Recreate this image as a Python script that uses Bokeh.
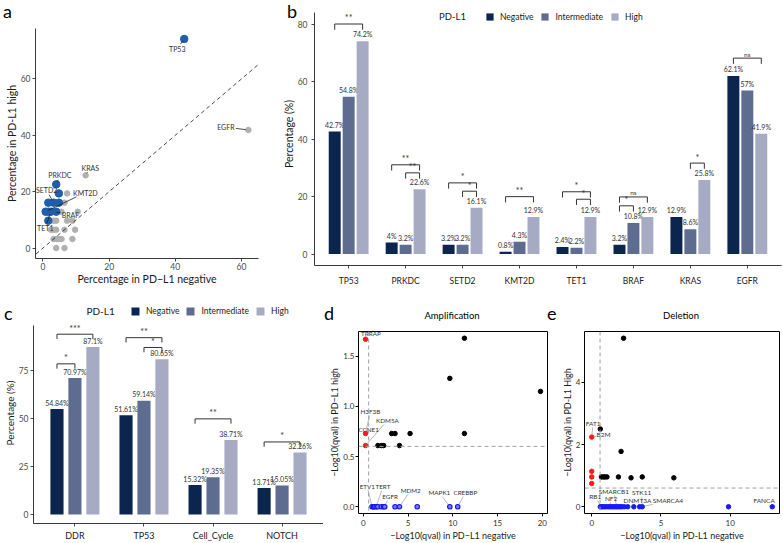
import math
from bokeh.plotting import figure
from bokeh.models import (ColumnDataSource, Range1d, FixedTicker, Label, Legend,
                          LegendItem, Span, Slope, NumeralTickFormatter, Div)
from bokeh.layouts import row, column
from bokeh.embed import file_html
from bokeh.resources import INLINE
from bokeh.core.properties import value

FONT = "Lato"
INK = "#1a1a1a"
GREY_TXT = "#4d4d4d"

# ======================= data =======================
pdl1_groups = ["Negative", "Intermediate", "High"]
pdl1_colors = ["#0b254f", "#5e6d8f", "#a6abc3"]

# ---- (a) mutation frequency (%): PD-L1 negative vs PD-L1 high ----
a_sig_neg = [42.7, 4.0, 4.8, 1.6, 3.2, 4.8, 0.8, 1.6, 2.4, 4.0, 1.6]
a_sig_high = [74.2, 22.6, 19.4, 16.1, 16.1, 16.1, 12.9, 12.9, 12.9, 12.9, 9.7]
a_ns_neg = [62.1, 12.9, 7.3, 6.5, 3.2, 5.6, 10.5, 3.2, 4.0, 7.3, 8.9,
            2.4, 3.2, 4.0, 6.5, 9.7, 3.2, 4.0, 4.8, 5.6, 8.9, 4.0, 6.5]
a_ns_high = [41.9, 25.8, 19.4, 16.1, 12.9, 12.9, 12.9, 9.7, 9.7, 9.7, 9.7,
             6.5, 6.5, 6.5, 6.5, 6.5, 3.2, 3.2, 3.2, 3.2, 3.2, 0.0, 0.0]
a_lab_gene = ["TP53", "EGFR", "KRAS", "PRKDC", "SETD2", "KMT2D", "BRAF", "TET1"]
a_lab_neg = [42.7, 62.1, 12.9, 4.0, 3.2, 0.8, 3.2, 2.4]
a_lab_high = [74.2, 41.9, 25.8, 22.6, 16.1, 12.9, 12.9, 12.9]
a_lab_tx = [40.6, 55.3, 14.3, 5.1, 1.1, 12.8, 8.3, 0.7]
a_lab_ty = [70.8, 42.9, 28.4, 25.8, 20.5, 19.7, 11.9, 7.2]
a_ticks = [0, 20, 40, 60]

# ---- (b) gene mutation frequency by PD-L1 group (%) ----
b_genes = ["TP53", "PRKDC", "SETD2", "KMT2D", "TET1", "BRAF", "KRAS", "EGFR"]
b_negative = [42.7, 4.0, 3.2, 0.8, 2.4, 3.2, 12.9, 62.1]
b_intermediate = [54.8, 3.2, 3.2, 4.3, 2.2, 10.8, 8.6, 57.0]
b_high = [74.2, 22.6, 16.1, 12.9, 12.9, 12.9, 25.8, 41.9]
b_ticks = [0, 20, 40, 60, 80]
b_cmp_gene = [0, 1, 1, 2, 2, 3, 4, 4, 5, 5, 6, 7]
b_cmp_from = [0, 0, 1, 0, 1, 0, 0, 1, 0, 0, 1, 0]
b_cmp_to = [2, 2, 2, 2, 2, 2, 2, 2, 2, 1, 2, 2]
b_cmp_y = [80.2, 31.1, 28.3, 24.8, 21.9, 20.0, 21.7, 19.1, 19.9, 16.8, 31.7, 68.3]
b_cmp_sig = ["**", "**", "**", "*", "*", "**", "*", "*", "ns", "*", "*", "ns"]

# ---- (c) pathway alteration frequency by PD-L1 group (%) ----
c_paths = ["DDR", "TP53", "Cell_Cycle", "NOTCH"]
c_negative = [54.84, 51.61, 15.32, 13.71]
c_intermediate = [70.97, 59.14, 19.35, 15.05]
c_high = [87.1, 80.65, 38.71, 32.26]
c_ticks = [0, 25, 50, 75]
c_cmp_path = [0, 0, 1, 1, 2, 3]
c_cmp_from = [0, 0, 0, 1, 0, 0]
c_cmp_to = [2, 1, 2, 2, 2, 2]
c_cmp_y = [93.7, 78.3, 91.9, 86.8, 49.7, 37.7]
c_cmp_sig = ["***", "*", "**", "*", "**", "*"]

# ---- (d) amplification, -log10(q) ----
q_cut = 0.25
d_black_x = [11.3, 9.67, 19.8, 3.17, 3.55, 5.23, 11.3, 1.63, 2.02, 2.28, 4.05]
d_black_y = [1.68, 1.28, 1.15, 0.73, 0.73, 0.73, 0.73, 0.61, 0.61, 0.61, 0.61]
d_red_x = [0.25, 0.25, 0.25]
d_red_y = [1.67, 0.73, 0.61]
d_blue_x = [0.98, 1.14, 1.25, 1.44, 1.63, 2.02, 2.28, 2.4, 3.55, 4.05, 6.03, 9.67, 10.55]
d_blue_y = [0.0] * 13
d_lab = ["TRRAP", "H3F3B", "KDM5A", "CCNE1", "ETV1", "TERT", "EGFR", "MDM2", "MAPK1", "CREBBP"]
d_lab_px = [0.25, 0.25, 0.25, 0.25, 0.98, 1.44, 2.28, 4.05, 9.67, 10.55]
d_lab_py = [1.67, 0.73, 0.61, 0.73, 0.0, 0.0, 0.0, 0.0, 0.0, 0.0]
d_lab_tx = [0.85, 0.8, 2.7, 0.6, 0.45, 2.2, 3.0, 5.3, 8.5, 11.4]
d_lab_ty = [1.73, 0.95, 0.86, 0.77, 0.2, 0.2, 0.1, 0.165, 0.14, 0.14]
d_xticks = [0, 5, 10, 15, 20]
d_yticks = [0, 0.5, 1.0, 1.5]

# ---- (e) deletion, -log10(q) ----
e_black_x = [2.3, 0.62, 2.12, 0.7, 0.84, 0.96, 1.1, 1.93, 2.84, 3.65, 5.93]
e_black_y = [5.42, 2.5, 1.78, 0.96, 0.96, 0.96, 0.96, 0.96, 0.93, 0.96, 0.93]
e_red_x = [0.0, 0.0, 0.0, 0.0]
e_red_y = [2.24, 1.14, 0.96, 0.75]
e_blue_x = [0.62, 0.7, 0.8, 0.9, 1.03, 1.18, 1.3, 1.42, 1.55, 1.67, 1.8, 1.92,
            2.05, 2.17, 2.35, 2.6, 3.04, 3.46, 3.65, 9.88, 13.04]
e_blue_y = [0.0] * 21
e_lab = ["FAT1", "B2M", "RB1", "SMARCB1", "NF2", "STK11", "DNMT3A", "SMARCA4", "FANCA"]
e_lab_px = [0.0, 0.0, 0.7, 1.8, 1.3, 3.65, 3.46, 3.65, 13.04]
e_lab_py = [2.24, 2.24, 0.0, 0.0, 0.0, 0.0, 0.0, 0.0, 0.0]
e_lab_tx = [0.1, 0.85, 0.25, 1.6, 1.4, 3.6, 3.3, 5.5, 12.45]
e_lab_ty = [2.68, 2.33, 0.34, 0.5, 0.26, 0.45, 0.19, 0.19, 0.19]
e_xticks = [0, 5, 10]
e_yticks = [0, 2, 4]


# ======================= helpers =======================
def expand(lo, hi, f):
    d = (hi - lo) * f
    return lo - d, hi + d


def new_fig(w, h, xr, yr, l, r, t, b):
    return figure(width=w, height=h, x_range=xr, y_range=yr, title=None,
                  toolbar_location=None, output_backend="svg", frame_align=False,
                  min_border_left=l, min_border_right=r, min_border_top=t,
                  min_border_bottom=b)


def gg_axes(p, tick_fs="8.5px", title_fs="10.5px"):
    p.xgrid.visible = False
    p.ygrid.visible = False
    p.outline_line_color = None
    for ax in (p.xaxis[0], p.yaxis[0]):
        ax.axis_line_color = "#222222"
        ax.axis_line_width = 0.9
        ax.major_tick_line_color = "#333333"
        ax.major_tick_line_width = 0.9
        ax.major_tick_in = 0
        ax.major_tick_out = 3
        ax.minor_tick_line_color = None
        ax.major_label_text_font = FONT
        ax.major_label_text_font_size = tick_fs
        ax.major_label_text_color = GREY_TXT
        ax.major_label_standoff = 2
        ax.axis_label_text_font = FONT
        ax.axis_label_text_font_style = "normal"
        ax.axis_label_text_font_size = title_fs
        ax.axis_label_text_color = INK
        ax.axis_label_standoff = 0


def r_axes(p):
    p.xgrid.visible = False
    p.ygrid.visible = False
    p.outline_line_color = "#000000"
    p.outline_line_width = 1
    for ax in (p.xaxis[0], p.yaxis[0]):
        ax.axis_line_color = None
        ax.major_tick_line_color = "#000000"
        ax.major_tick_in = 0
        ax.major_tick_out = 3
        ax.minor_tick_line_color = None
        ax.major_label_text_font = FONT
        ax.major_label_text_font_size = "8px"
        ax.major_label_text_color = "#333333"
        ax.major_label_standoff = 1
        ax.axis_label_text_font = FONT
        ax.axis_label_text_font_style = "normal"
        ax.axis_label_text_font_size = "9px"
        ax.axis_label_text_color = INK
        ax.axis_label_standoff = 0
    p.xaxis[0].major_label_standoff = 3
    p.xaxis[0].axis_label_standoff = 1


def leaders(tx, ty, px, py, names, fs, sx, sy, gap):
    x0, y0, x1, y1 = [], [], [], []
    for a, b, c, d, nm in zip(tx, ty, px, py, names):
        dx = (c - a) * sx
        dy = (d - b) * sy
        dist = math.hypot(dx, dy)
        if dist < 1e-9:
            continue
        hw = 0.3 * fs * len(nm) + 1.5
        hh = 0.55 * fs + 0.5
        t0 = min(hw / abs(dx) if dx else 1e9, hh / abs(dy) if dy else 1e9)
        t1 = 1 - gap / dist
        if t0 < t1:
            x0.append(a + (c - a) * t0)
            y0.append(b + (d - b) * t0)
            x1.append(a + (c - a) * t1)
            y1.append(b + (d - b) * t1)
    return ColumnDataSource(dict(x0=x0, y0=y0, x1=x1, y1=y1))


def draw_bars(p, n, series, step, width, lab_fs, lab_gap):
    rs = []
    for gi, (vals, col) in enumerate(zip(series, pdl1_colors)):
        xs = [i + (gi - 1) * step for i in range(n)]
        src = ColumnDataSource(dict(x=xs, top=vals,
                                    lab=[f"{v:g}%" for v in vals],
                                    ly=[v + lab_gap for v in vals]))
        r = p.vbar(x="x", top="top", bottom=0, width=width, source=src,
                   fill_color=col, line_color=None)
        p.text(x="x", y="ly", text="lab", source=src, text_font=value(FONT),
               text_font_size=lab_fs, text_color="#333333",
               text_align="center", text_baseline="bottom")
        rs.append(r)
    return rs


def draw_brackets(p, cats, gfrom, gto, ys, sigs, step, tip, star_fs, ns_fs):
    xs, yl = [], []
    st = dict(x=[], y=[], t=[])
    ns = dict(x=[], y=[], t=[])
    for c, a, b, y, s in zip(cats, gfrom, gto, ys, sigs):
        x1 = c + (a - 1) * step
        x2 = c + (b - 1) * step
        xs.append([x1, x1, x2, x2])
        yl.append([y - tip, y, y, y - tip])
        tgt = ns if s == "ns" else st
        tgt["x"].append((x1 + x2) / 2)
        tgt["y"].append(y + tip * 0.1)
        tgt["t"].append(s)
    p.multi_line(xs=xs, ys=yl, line_color="#333333", line_width=1)
    p.text(x="x", y="y", text="t", source=ColumnDataSource(st), text_font=value(FONT),
           text_font_size=star_fs, text_color="#333333", text_align="center",
           text_baseline="bottom")
    p.text(x="x", y="y", text="t", source=ColumnDataSource(ns), text_font=value(FONT),
           text_font_size=ns_fs, text_color="#333333", text_align="center",
           text_baseline="bottom")


def make_legend(rs, loc, fs, glyph, spacing):
    return Legend(items=[LegendItem(label=g, renderers=[r]) for g, r in zip(pdl1_groups, rs)],
                  location=loc, orientation="horizontal", glyph_width=glyph,
                  glyph_height=glyph, label_height=glyph, label_standoff=6,
                  spacing=spacing, padding=0, margin=0, border_line_color=None,
                  background_fill_alpha=0, label_text_font=FONT,
                  label_text_font_size=fs, label_text_color=INK,
                  label_text_baseline="middle")


def overlay(text, left, top, size, width, height, align="left"):
    return Div(text=text, width=width, height=height,
               styles={"position": "absolute", "left": f"{left}px", "top": f"{top}px",
                       "font-family": FONT, "font-size": size, "color": "#000000",
                       "line-height": "1", "white-space": "nowrap",
                       "text-align": align, "margin": "0", "padding": "0"})


# ======================= panel a =======================
A_W, A_H, A_L, A_R, A_T, A_B = 262, 300, 35, 4, 28, 42
ax0, ax1 = expand(min(a_sig_neg + a_ns_neg), max(a_sig_neg + a_ns_neg), 0.05)
ay0, ay1 = expand(min(a_sig_high + a_ns_high), max(a_sig_high + a_ns_high), 0.05)
fa = new_fig(A_W, A_H, Range1d(ax0, ax1), Range1d(ay0, ay1), A_L, A_R, A_T, A_B)
gg_axes(fa)
fa.xaxis.ticker = FixedTicker(ticks=a_ticks)
fa.yaxis.ticker = FixedTicker(ticks=a_ticks)
fa.xaxis.major_label_standoff = 1
fa.xaxis.axis_label = "Percentage in PD\u2212L1 negative"
fa.yaxis.axis_label = "Percentage in PD-L1 high"
fa.add_layout(Slope(gradient=1, y_intercept=0, line_color="#333333",
                    line_dash="4 3", line_width=0.9))
fa.scatter(a_ns_neg, a_ns_high, size=5.5, color="#b0b0b0")
fa.scatter(a_sig_neg, a_sig_high, size=7.5, color="#1f5ea8")
sxa = (A_W - A_L - A_R) / (ax1 - ax0)
sya = (A_H - A_T - A_B) / (ay1 - ay0)
fa.segment(x0="x0", y0="y0", x1="x1", y1="y1",
           source=leaders(a_lab_tx, a_lab_ty, a_lab_neg, a_lab_high, a_lab_gene, 7, sxa, sya, 2.5),
           line_color="#222222", line_width=0.8)
fa.text(x=a_lab_tx, y=a_lab_ty, text=a_lab_gene, text_font=value(FONT),
        text_font_size="7px", text_color="#333333", text_align="center",
        text_baseline="middle")

# ======================= panel b =======================
B_W, B_H, B_L, B_R, B_B = 521, 300, 52, 2, 35
B_GG_TOP, B_T = 12, 2            # ggplot panel top vs frame top (px)
nb = len(b_genes)
by0, by1 = expand(0, max(b_cmp_y), 0.05)
b_gg_h = B_H - B_GG_TOP - B_B
by_top = by1 + (by1 - by0) * (B_GG_TOP - B_T) / b_gg_h
fb = new_fig(B_W, B_H, Range1d(-0.6, nb - 0.4), Range1d(by0, by_top), B_L, B_R, B_T, B_B)
gg_axes(fb, title_fs="10.5px")
fb.yaxis.bounds = (by0, by1)
fb.yaxis.major_label_standoff = 4
fb.xaxis.major_label_standoff = 7
fb.xaxis.axis_label = None
fb.xaxis.ticker = FixedTicker(ticks=list(range(nb)))
fb.xaxis.major_label_overrides = {i: g for i, g in enumerate(b_genes)}
fb.xaxis.major_label_text_color = INK
fb.yaxis.ticker = FixedTicker(ticks=b_ticks)
fb.yaxis.axis_label = "Percentage (%)"
rb = draw_bars(fb, nb, [b_negative, b_intermediate, b_high], 0.245, 0.21, "7px", 1.0)
draw_brackets(fb, b_cmp_gene, b_cmp_from, b_cmp_to, b_cmp_y, b_cmp_sig, 0.245, 2.0, "9px", "6.5px")
b_frame_h = B_H - B_T - B_B
fb.add_layout(make_legend(rb, (171, b_frame_h - (16 - B_T) - 5.5), "8.5px", 9, 7))
fb.add_layout(Label(x=138, y=b_frame_h - (16 - B_T), x_units="screen", y_units="screen",
                    text="PD-L1", text_font=FONT, text_font_size="9.5px", text_color=INK,
                    text_align="center", text_baseline="middle"))

# ======================= panel c =======================
C_W, C_H, C_L, C_R, C_B = 323, 243, 30, 0, 17
C_GG_TOP, C_T = 25, 2
nc = len(c_paths)
cy0, cy1 = expand(0, max(c_cmp_y), 0.05)
c_gg_h = C_H - C_GG_TOP - C_B
cy_top = cy1 + (cy1 - cy0) * (C_GG_TOP - C_T) / c_gg_h
fc = new_fig(C_W, C_H, Range1d(-0.6, nc - 0.4), Range1d(cy0, cy_top), C_L, C_R, C_T, C_B)
gg_axes(fc, tick_fs="8.5px", title_fs="10px")
fc.yaxis.bounds = (cy0, cy1)
fc.xaxis.axis_label = None
fc.xaxis.major_label_standoff = 3
fc.xaxis.ticker = FixedTicker(ticks=list(range(nc)))
fc.xaxis.major_label_overrides = {i: g for i, g in enumerate(c_paths)}
fc.xaxis.major_label_text_color = INK
fc.xaxis.major_label_text_font_size = "9px"
fc.yaxis.ticker = FixedTicker(ticks=c_ticks)
fc.yaxis.axis_label = "Percentage (%)"
rc = draw_bars(fc, nc, [c_negative, c_intermediate, c_high], 0.26, 0.19, "7px", 1.2)
draw_brackets(fc, c_cmp_path, c_cmp_from, c_cmp_to, c_cmp_y, c_cmp_sig, 0.26, 2.5, "9px", "6.5px")
c_frame_h = C_H - C_T - C_B
fc.add_layout(make_legend(rc, (97, c_frame_h - (13 - C_T) - 5.5), "8.5px", 10, 6))
fc.add_layout(Label(x=53, y=c_frame_h - (13 - C_T), x_units="screen", y_units="screen",
                    text="PD-L1", text_font=FONT, text_font_size="10px", text_color=INK,
                    text_align="left", text_baseline="middle"))

# ======================= panel d =======================
D_W, D_H, D_L, D_R, D_T, D_B = 229, 243, 35, 5, 31, 26
dxs = d_black_x + d_red_x + d_blue_x
dys = d_black_y + d_red_y + d_blue_y
dx0, dx1 = expand(min(dxs), max(dxs), 0.04)
dy0, dy1 = expand(min(dys), max(dys), 0.04)
fd = new_fig(D_W, D_H, Range1d(dx0, dx1), Range1d(dy0, dy1), D_L, D_R, D_T, D_B)
r_axes(fd)
fd.xaxis.ticker = FixedTicker(ticks=d_xticks)
fd.yaxis.ticker = FixedTicker(ticks=d_yticks)
fd.yaxis.formatter = NumeralTickFormatter(format="0.0")
fd.xaxis.axis_label = "\u2212Log10(qval) in PD\u2212L1 negative"
fd.yaxis.axis_label = "\u2212Log10(qval) in PD\u2212L1 high"
thr = -math.log10(q_cut)
fd.add_layout(Span(location=thr, dimension="width", line_color="#a0a0a0",
                   line_dash="4 3", line_width=1))
fd.add_layout(Span(location=thr, dimension="height", line_color="#a0a0a0",
                   line_dash="4 3", line_width=1))
sxd = (D_W - D_L - D_R) / (dx1 - dx0)
syd = (D_H - D_T - D_B) / (dy1 - dy0)
fd.segment(x0="x0", y0="y0", x1="x1", y1="y1",
           source=leaders(d_lab_tx, d_lab_ty, d_lab_px, d_lab_py, d_lab, 6.3, sxd, syd, 2.5),
           line_color="#9a9a9a", line_width=0.7)
fd.scatter(d_black_x, d_black_y, size=4.5, color="#000000")
fd.scatter(d_red_x, d_red_y, size=4.5, color="#ff1a1a")
fd.scatter(d_blue_x, d_blue_y, size=4.5, fill_color="#7878ff", line_color="#1414ee",
           line_width=1.1)
fd.text(x=d_lab_tx, y=d_lab_ty, text=d_lab, text_font=value(FONT), text_font_size="6.3px",
        text_color="#333333", text_align="center", text_baseline="middle")

# ======================= panel e =======================
E_W, E_H, E_L, E_R, E_T, E_B = 231, 243, 32, 4, 31, 26
exs = e_black_x + e_red_x + e_blue_x
eys = e_black_y + e_red_y + e_blue_y
ex0, ex1 = expand(min(exs), max(exs), 0.04)
ey0, ey1 = expand(min(eys), max(eys), 0.04)
fe = new_fig(E_W, E_H, Range1d(ex0, ex1), Range1d(ey0, ey1), E_L, E_R, E_T, E_B)
r_axes(fe)
fe.xaxis.ticker = FixedTicker(ticks=e_xticks)
fe.yaxis.ticker = FixedTicker(ticks=e_yticks)
fe.xaxis.axis_label = "\u2212Log10(qval) in PD-L1 negative"
fe.yaxis.axis_label = "\u2212Log10(qval) in PD-L1 High"
fe.add_layout(Span(location=thr, dimension="width", line_color="#a0a0a0",
                   line_dash="4 3", line_width=1))
fe.add_layout(Span(location=thr, dimension="height", line_color="#a0a0a0",
                   line_dash="4 3", line_width=1))
sxe = (E_W - E_L - E_R) / (ex1 - ex0)
sye = (E_H - E_T - E_B) / (ey1 - ey0)
fe.segment(x0="x0", y0="y0", x1="x1", y1="y1",
           source=leaders(e_lab_tx, e_lab_ty, e_lab_px, e_lab_py, e_lab, 6.5, sxe, sye, 2.5),
           line_color="#9a9a9a", line_width=0.7)
fe.scatter(e_black_x, e_black_y, size=4.5, color="#000000")
fe.scatter(e_red_x, e_red_y, size=4.5, color="#ff1a1a")
fe.scatter(e_blue_x, e_blue_y, size=4.5, color="#1a1aff")
fe.text(x=e_lab_tx, y=e_lab_ty, text=e_lab, text_font=value(FONT), text_font_size="6.5px",
        text_color="#333333", text_align="center", text_baseline="middle")

# ======================= panel letters / titles (outside plot frames) =======================
overlays = [
    overlay("a", 3, 2, "18px", 16, 22),
    overlay("b", 287, 2, "18px", 16, 22),
    overlay("c", 4, 304, "18px", 16, 22),
    overlay("d", 324, 304, "18px", 16, 22),
    overlay("e", 547, 304, "18px", 16, 22),
    overlay("Amplification", 392, 311, "9.5px", 120, 12, "center"),
    overlay("Deletion", 631, 311, "9.5px", 100, 12, "center"),
]

root = column(row(fa, fb), row(fc, fd, fe), *overlays, styles={"position": "relative"})

open("out.html", "w").write(file_html(root, INLINE))
